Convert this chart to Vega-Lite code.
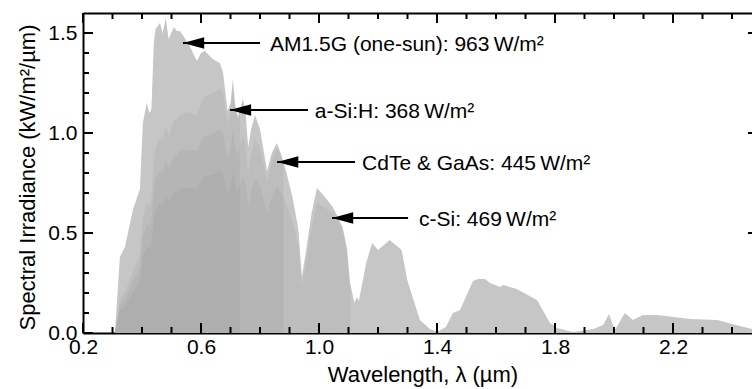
{
  "$schema": "https://vega.github.io/schema/vega-lite/v6.json",
  "width": 669,
  "height": 320,
  "autosize": {"type": "none"},
  "padding": {"left": 83, "top": 13, "right": 0, "bottom": 56},
  "background": "white",
  "config": {
    "view": {"stroke": null},
    "font": "Liberation Sans",
    "axis": {
      "domainColor": "black", "domainWidth": 2, "grid": false, "zindex": 0,
      "labelColor": "black", "titleColor": "black", "labelFont": "Liberation Sans", "titleFont": "Liberation Sans",
      "labelFontSize": 21, "titleFontSize": 22, "titleFontWeight": "normal"
    }
  },
  "datasets": {
    "am": [
      {"lam":0.300,"E":0},{"lam":0.308,"E":0},{"lam":0.315,"E":0.15},{"lam":0.325,"E":0.38},{"lam":0.342,"E":0.43},
      {"lam":0.370,"E":0.62},{"lam":0.393,"E":0.72},{"lam":0.403,"E":1.05},{"lam":0.416,"E":1.15},{"lam":0.425,"E":1.10},
      {"lam":0.432,"E":1.12},{"lam":0.440,"E":1.45},{"lam":0.446,"E":1.52},{"lam":0.461,"E":1.55},{"lam":0.470,"E":1.50},
      {"lam":0.481,"E":1.575},{"lam":0.490,"E":1.47},{"lam":0.508,"E":1.53},{"lam":0.518,"E":1.51},{"lam":0.529,"E":1.51},
      {"lam":0.560,"E":1.44},{"lam":0.586,"E":1.36},{"lam":0.600,"E":1.40},{"lam":0.613,"E":1.41},{"lam":0.640,"E":1.37},
      {"lam":0.664,"E":1.35},{"lam":0.675,"E":1.30},{"lam":0.690,"E":1.11},{"lam":0.700,"E":1.15},{"lam":0.708,"E":1.27},
      {"lam":0.715,"E":1.15},{"lam":0.725,"E":1.08},{"lam":0.732,"E":1.117},{"lam":0.742,"E":1.17},{"lam":0.750,"E":1.12},
      {"lam":0.760,"E":0.93},{"lam":0.770,"E":1.02},{"lam":0.783,"E":1.09},{"lam":0.800,"E":1.02},{"lam":0.824,"E":0.81},
      {"lam":0.840,"E":0.90},{"lam":0.857,"E":0.95},{"lam":0.870,"E":0.90},{"lam":0.880,"E":0.85},{"lam":0.890,"E":0.80},
      {"lam":0.910,"E":0.68},{"lam":0.930,"E":0.52},{"lam":0.942,"E":0.28},{"lam":0.955,"E":0.40},{"lam":0.975,"E":0.60},
      {"lam":0.993,"E":0.725},{"lam":1.020,"E":0.68},{"lam":1.047,"E":0.63},{"lam":1.080,"E":0.53},{"lam":1.095,"E":0.42},
      {"lam":1.105,"E":0.25},{"lam":1.107,"E":0.24},{"lam":1.120,"E":0.15},{"lam":1.128,"E":0.18},{"lam":1.135,"E":0.16},
      {"lam":1.160,"E":0.35},{"lam":1.180,"E":0.45},{"lam":1.200,"E":0.415},{"lam":1.240,"E":0.465},{"lam":1.280,"E":0.415},
      {"lam":1.300,"E":0.26},{"lam":1.342,"E":0.065},{"lam":1.376,"E":0.02},{"lam":1.400,"E":0.005},{"lam":1.430,"E":0.03},
      {"lam":1.454,"E":0.10},{"lam":1.478,"E":0.115},{"lam":1.522,"E":0.26},{"lam":1.539,"E":0.27},{"lam":1.563,"E":0.27},
      {"lam":1.580,"E":0.25},{"lam":1.614,"E":0.23},{"lam":1.624,"E":0.24},{"lam":1.670,"E":0.22},{"lam":1.739,"E":0.165},
      {"lam":1.783,"E":0.05},{"lam":1.807,"E":0.025},{"lam":1.860,"E":0.005},{"lam":1.930,"E":0.02},{"lam":1.963,"E":0.04},
      {"lam":1.983,"E":0.095},{"lam":2.003,"E":0.015},{"lam":2.037,"E":0.10},{"lam":2.064,"E":0.065},{"lam":2.098,"E":0.09},
      {"lam":2.146,"E":0.09},{"lam":2.258,"E":0.07},{"lam":2.350,"E":0.065},{"lam":2.400,"E":0.045},{"lam":2.468,"E":0.02}
    ],
    "asi": [
      {"lam":0.300,"E":0},{"lam":0.308,"E":0},{"lam":0.315,"E":0.065},{"lam":0.325,"E":0.169},{"lam":0.342,"E":0.201},
      {"lam":0.370,"E":0.313},{"lam":0.393,"E":0.387},{"lam":0.403,"E":0.578},{"lam":0.416,"E":0.654},{"lam":0.425,"E":0.639},
      {"lam":0.432,"E":0.661},{"lam":0.440,"E":0.872},{"lam":0.446,"E":0.926},{"lam":0.461,"E":0.976},{"lam":0.470,"E":0.963},
      {"lam":0.481,"E":1.035},{"lam":0.490,"E":0.984},{"lam":0.508,"E":1.062},{"lam":0.518,"E":1.069},{"lam":0.529,"E":1.091},
      {"lam":0.560,"E":1.102},{"lam":0.586,"E":1.089},{"lam":0.600,"E":1.148},{"lam":0.613,"E":1.181},{"lam":0.640,"E":1.198},
      {"lam":0.664,"E":1.225},{"lam":0.675,"E":1.199},{"lam":0.690,"E":1.046},{"lam":0.700,"E":1.100},{"lam":0.708,"E":1.228},
      {"lam":0.715,"E":1.123},{"lam":0.725,"E":1.070},{"lam":0.732,"E":1.117},{"lam":0.7321,"E":0}
    ],
    "cdte": [
      {"lam":0.300,"E":0},{"lam":0.308,"E":0},{"lam":0.315,"E":0.054},{"lam":0.325,"E":0.140},{"lam":0.342,"E":0.167},
      {"lam":0.370,"E":0.261},{"lam":0.393,"E":0.322},{"lam":0.403,"E":0.481},{"lam":0.416,"E":0.544},{"lam":0.425,"E":0.531},
      {"lam":0.432,"E":0.550},{"lam":0.440,"E":0.725},{"lam":0.446,"E":0.770},{"lam":0.461,"E":0.812},{"lam":0.470,"E":0.801},
      {"lam":0.481,"E":0.861},{"lam":0.490,"E":0.819},{"lam":0.508,"E":0.883},{"lam":0.518,"E":0.889},{"lam":0.529,"E":0.908},
      {"lam":0.560,"E":0.916},{"lam":0.586,"E":0.906},{"lam":0.600,"E":0.955},{"lam":0.613,"E":0.982},{"lam":0.640,"E":0.996},
      {"lam":0.664,"E":1.019},{"lam":0.675,"E":0.997},{"lam":0.690,"E":0.870},{"lam":0.700,"E":0.915},{"lam":0.708,"E":1.022},
      {"lam":0.715,"E":0.934},{"lam":0.725,"E":0.890},{"lam":0.732,"E":0.929},{"lam":0.742,"E":0.987},{"lam":0.750,"E":0.955},
      {"lam":0.760,"E":0.803},{"lam":0.770,"E":0.893},{"lam":0.783,"E":0.970},{"lam":0.800,"E":0.927},{"lam":0.824,"E":0.758},
      {"lam":0.840,"E":0.859},{"lam":0.857,"E":0.925},{"lam":0.870,"E":0.890},{"lam":0.880,"E":0.850},{"lam":0.8801,"E":0}
    ],
    "csi": [
      {"lam":0.300,"E":0},{"lam":0.308,"E":0},{"lam":0.315,"E":0.043},{"lam":0.325,"E":0.112},{"lam":0.342,"E":0.133},
      {"lam":0.370,"E":0.207},{"lam":0.393,"E":0.256},{"lam":0.403,"E":0.382},{"lam":0.416,"E":0.432},{"lam":0.425,"E":0.422},
      {"lam":0.432,"E":0.437},{"lam":0.440,"E":0.576},{"lam":0.446,"E":0.612},{"lam":0.461,"E":0.645},{"lam":0.470,"E":0.637},
      {"lam":0.481,"E":0.684},{"lam":0.490,"E":0.651},{"lam":0.508,"E":0.702},{"lam":0.518,"E":0.707},{"lam":0.529,"E":0.722},
      {"lam":0.560,"E":0.728},{"lam":0.586,"E":0.720},{"lam":0.600,"E":0.759},{"lam":0.613,"E":0.781},{"lam":0.640,"E":0.792},
      {"lam":0.664,"E":0.810},{"lam":0.675,"E":0.793},{"lam":0.690,"E":0.692},{"lam":0.700,"E":0.727},{"lam":0.708,"E":0.812},
      {"lam":0.715,"E":0.743},{"lam":0.725,"E":0.707},{"lam":0.732,"E":0.739},{"lam":0.742,"E":0.784},{"lam":0.750,"E":0.759},
      {"lam":0.760,"E":0.638},{"lam":0.770,"E":0.709},{"lam":0.783,"E":0.771},{"lam":0.800,"E":0.737},{"lam":0.824,"E":0.603},
      {"lam":0.840,"E":0.683},{"lam":0.857,"E":0.735},{"lam":0.870,"E":0.707},{"lam":0.880,"E":0.676},{"lam":0.890,"E":0.643},
      {"lam":0.910,"E":0.559},{"lam":0.930,"E":0.437},{"lam":0.942,"E":0.238},{"lam":0.955,"E":0.345},{"lam":0.975,"E":0.528},
      {"lam":0.993,"E":0.650},{"lam":1.020,"E":0.627},{"lam":1.047,"E":0.596},{"lam":1.080,"E":0.517},{"lam":1.095,"E":0.415},
      {"lam":1.105,"E":0.250},{"lam":1.107,"E":0.240},{"lam":1.1071,"E":0}
    ],
    "ann": [
      {"lam":0.539,"lam2":0.800,"lamT":0.834,"E":1.45,"label":"AM1.5G (one-sun): 963\u2009W/m²"},
      {"lam":0.698,"lam2":0.963,"lamT":0.986,"E":1.115,"label":"a-Si:H: 368\u2009W/m²"},
      {"lam":0.858,"lam2":1.122,"lamT":1.146,"E":0.855,"label":"CdTe & GaAs: 445\u2009W/m²"},
      {"lam":1.044,"lam2":1.302,"lamT":1.339,"E":0.575,"label":"c-Si: 469\u2009W/m²"}
    ],
    "xt": [
      {"v":0.2,"m":1},{"v":0.3,"m":0},{"v":0.4,"m":0},{"v":0.5,"m":0},{"v":0.6,"m":1},{"v":0.7,"m":0},{"v":0.8,"m":0},{"v":0.9,"m":0},
      {"v":1.0,"m":1},{"v":1.1,"m":0},{"v":1.2,"m":0},{"v":1.3,"m":0},{"v":1.4,"m":1},{"v":1.5,"m":0},{"v":1.6,"m":0},{"v":1.7,"m":0},
      {"v":1.8,"m":1},{"v":1.9,"m":0},{"v":2.0,"m":0},{"v":2.1,"m":0},{"v":2.2,"m":1},{"v":2.3,"m":0},{"v":2.4,"m":0}
    ],
    "yt": [
      {"v":0.0,"m":1},{"v":0.1,"m":0},{"v":0.2,"m":0},{"v":0.3,"m":0},{"v":0.4,"m":0},{"v":0.5,"m":1},{"v":0.6,"m":0},{"v":0.7,"m":0},
      {"v":0.8,"m":0},{"v":0.9,"m":0},{"v":1.0,"m":1},{"v":1.1,"m":0},{"v":1.2,"m":0},{"v":1.3,"m":0},{"v":1.4,"m":0},{"v":1.5,"m":1}
    ]
  },
  "layer": [
    {
      "data": {"name": "am"},
      "mark": {"type": "area", "color": "#c6c6c6"},
      "encoding": {
        "x": {"field": "lam", "type": "quantitative", "scale": {"domain": [0.2, 2.4678], "nice": false, "zero": false},
          "axis": {"orient": "bottom", "values": [0.2, 0.6, 1.0, 1.4, 1.8, 2.2], "format": ".1f",
            "ticks": false, "labelPadding": 3, "labelBaseline": "top", "labelFlush": false, "labelOverlap": false,
            "title": "Wavelength, λ (µm)", "titleX": 339.5, "titleY": 48, "titleBaseline": "alphabetic", "titleAlign": "center"}},
        "y": {"field": "E", "type": "quantitative", "scale": {"domain": [0, 1.6], "nice": false},
          "axis": {"orient": "left", "values": [0, 0.5, 1.0, 1.5], "format": ".1f",
            "ticks": false, "labelPadding": 6, "labelFlush": false, "labelOverlap": false,
            "title": "Spectral Irradiance (kW/m²/µm)", "titleX": -56, "titleY": 164, "titleAngle": -90, "titleBaseline": "middle", "titleAlign": "center"}}
      }
    },
    {
      "data": {"name": "asi"},
      "mark": {"type": "area", "color": "#7a7a7a", "opacity": 0.1},
      "encoding": {
        "x": {"field": "lam", "type": "quantitative", "scale": {"domain": [0.2, 2.4678], "nice": false, "zero": false}, "axis": null},
        "y": {"field": "E", "type": "quantitative", "scale": {"domain": [0, 1.6], "nice": false}, "axis": null}
      }
    },
    {
      "data": {"name": "cdte"},
      "mark": {"type": "area", "color": "#7a7a7a", "opacity": 0.1},
      "encoding": {
        "x": {"field": "lam", "type": "quantitative", "scale": {"domain": [0.2, 2.4678], "nice": false, "zero": false}, "axis": null},
        "y": {"field": "E", "type": "quantitative", "scale": {"domain": [0, 1.6], "nice": false}, "axis": null}
      }
    },
    {
      "data": {"name": "csi"},
      "mark": {"type": "area", "color": "#7a7a7a", "opacity": 0.1},
      "encoding": {
        "x": {"field": "lam", "type": "quantitative", "scale": {"domain": [0.2, 2.4678], "nice": false, "zero": false},
          "axis": {"orient": "top", "ticks": false, "labels": false, "domain": true, "title": null}},
        "y": {"field": "E", "type": "quantitative", "scale": {"domain": [0, 1.6], "nice": false}, "axis": null}
      }
    },
    {
      "mark": {"type": "rule", "color": "black", "strokeWidth": 2},
      "encoding": {
        "x": {"datum": 0.2, "type": "quantitative", "scale": {"domain": [0.2, 2.4678], "nice": false, "zero": false}, "axis": null},
        "x2": {"datum": 2.4678},
        "y": {"datum": 0, "type": "quantitative", "scale": {"domain": [0, 1.6], "nice": false}, "axis": null}
      }
    },
    {
      "data": {"name": "xt"},
      "transform": [{"filter": "datum.m == 1"}],
      "mark": {"type": "tick", "orient": "vertical", "size": 10, "thickness": 2, "yOffset": -5, "color": "black", "opacity": 1},
      "encoding": {
        "x": {"field": "v", "type": "quantitative", "scale": {"domain": [0.2, 2.4678], "nice": false, "zero": false}, "axis": null},
        "y": {"datum": 0, "type": "quantitative", "scale": {"domain": [0, 1.6], "nice": false}, "axis": null}
      }
    },
    {
      "data": {"name": "xt"},
      "transform": [{"filter": "datum.m == 0"}],
      "mark": {"type": "tick", "orient": "vertical", "size": 6, "thickness": 2, "yOffset": -3, "color": "black", "opacity": 1},
      "encoding": {
        "x": {"field": "v", "type": "quantitative", "scale": {"domain": [0.2, 2.4678], "nice": false, "zero": false}, "axis": null},
        "y": {"datum": 0, "type": "quantitative", "scale": {"domain": [0, 1.6], "nice": false}, "axis": null}
      }
    },
    {
      "data": {"name": "xt"},
      "transform": [{"filter": "datum.m == 1"}],
      "mark": {"type": "tick", "orient": "vertical", "size": 10, "thickness": 2, "yOffset": 5, "color": "black", "opacity": 1},
      "encoding": {
        "x": {"field": "v", "type": "quantitative", "scale": {"domain": [0.2, 2.4678], "nice": false, "zero": false}, "axis": null},
        "y": {"datum": 1.6, "type": "quantitative", "scale": {"domain": [0, 1.6], "nice": false}, "axis": null}
      }
    },
    {
      "data": {"name": "xt"},
      "transform": [{"filter": "datum.m == 0"}],
      "mark": {"type": "tick", "orient": "vertical", "size": 6, "thickness": 2, "yOffset": 3, "color": "black", "opacity": 1},
      "encoding": {
        "x": {"field": "v", "type": "quantitative", "scale": {"domain": [0.2, 2.4678], "nice": false, "zero": false}, "axis": null},
        "y": {"datum": 1.6, "type": "quantitative", "scale": {"domain": [0, 1.6], "nice": false}, "axis": null}
      }
    },
    {
      "data": {"name": "yt"},
      "transform": [{"filter": "datum.m == 1"}],
      "mark": {"type": "tick", "orient": "horizontal", "size": 10, "thickness": 2, "xOffset": 5, "color": "black", "opacity": 1},
      "encoding": {
        "x": {"datum": 0.2, "type": "quantitative", "scale": {"domain": [0.2, 2.4678], "nice": false, "zero": false}, "axis": null},
        "y": {"field": "v", "type": "quantitative", "scale": {"domain": [0, 1.6], "nice": false}, "axis": null}
      }
    },
    {
      "data": {"name": "yt"},
      "transform": [{"filter": "datum.m == 0"}],
      "mark": {"type": "tick", "orient": "horizontal", "size": 6, "thickness": 2, "xOffset": 3, "color": "black", "opacity": 1},
      "encoding": {
        "x": {"datum": 0.2, "type": "quantitative", "scale": {"domain": [0.2, 2.4678], "nice": false, "zero": false}, "axis": null},
        "y": {"field": "v", "type": "quantitative", "scale": {"domain": [0, 1.6], "nice": false}, "axis": null}
      }
    },
    {
      "data": {"name": "yt"},
      "transform": [{"filter": "datum.m == 1 && datum.v > 0"}],
      "mark": {"type": "tick", "orient": "horizontal", "size": 10, "thickness": 2, "xOffset": -5, "color": "black", "opacity": 1},
      "encoding": {
        "x": {"datum": 2.488, "type": "quantitative", "scale": {"domain": [0.2, 2.4678], "nice": false, "zero": false}, "axis": null},
        "y": {"field": "v", "type": "quantitative", "scale": {"domain": [0, 1.6], "nice": false}, "axis": null}
      }
    },
    {
      "data": {"name": "ann"},
      "mark": {"type": "rule", "color": "black", "strokeWidth": 2},
      "encoding": {
        "x": {"field": "lam", "type": "quantitative", "scale": {"domain": [0.2, 2.4678], "nice": false, "zero": false}, "axis": null},
        "x2": {"field": "lam2"},
        "y": {"field": "E", "type": "quantitative", "scale": {"domain": [0, 1.6], "nice": false}, "axis": null}
      }
    },
    {
      "data": {"name": "ann"},
      "mark": {"type": "point", "shape": "M-1,0L1,-0.55L1,0.55Z", "size": 450, "filled": true, "color": "black", "opacity": 1, "xOffset": 10.6},
      "encoding": {
        "x": {"field": "lam", "type": "quantitative", "scale": {"domain": [0.2, 2.4678], "nice": false, "zero": false}, "axis": null},
        "y": {"field": "E", "type": "quantitative", "scale": {"domain": [0, 1.6], "nice": false}, "axis": null}
      }
    },
    {
      "data": {"name": "ann"},
      "mark": {"type": "text", "align": "left", "baseline": "middle", "fontSize": 21, "font": "Liberation Sans", "color": "black", "dy": 2},
      "encoding": {
        "x": {"field": "lamT", "type": "quantitative", "scale": {"domain": [0.2, 2.4678], "nice": false, "zero": false}, "axis": null},
        "y": {"field": "E", "type": "quantitative", "scale": {"domain": [0, 1.6], "nice": false}, "axis": null},
        "text": {"field": "label"}
      }
    }
  ],
  "resolve": {"axis": {"x": "independent", "y": "independent"}}
}
